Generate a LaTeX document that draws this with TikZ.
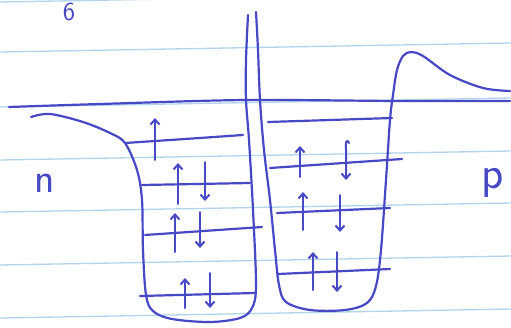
\documentclass[tikz,border=0pt]{standalone}
\usetikzlibrary{arrows.meta}
\definecolor{pen}{RGB}{70,72,198}
\definecolor{rule}{RGB}{178,212,236}
\begin{document}
\begin{tikzpicture}[x=1pt,y=-1pt,
  ink/.style={draw=pen,line width=2.2pt,line cap=round,line join=round},
  ruled/.style={draw=rule,line width=1.3pt},
  spin/.style={ink,line width=2pt,-{Straight Barb[length=5pt,width=9pt,line width=2pt]}},
  lbl/.style={text=pen,inner sep=0pt,font=\sffamily}]
\fill[white] (0,0) rectangle (511,327);
\useasboundingbox (0,0) rectangle (511,327);
% ruled paper lines
\foreach \yl in {2,52,107,160,212,265,318}
  \draw[ruled] (0,\yl) -- (511,\yl-9);
% digit at top
\node[lbl,font=\sffamily\fontsize{26}{26}\selectfont,anchor=north] (six) at (69,3) {6};
% Fermi line
\draw[ink] plot[smooth,tension=0.5] coordinates {(9,107) (100,104) (245,100) (400,101) (510,101)};
% n-side well and left barrier line
\draw[ink] plot[smooth,tension=0.55] coordinates {(31,117) (50,114) (83,122) (110,133) (125,143) (137,170) (142,200) (143,250) (146,295) (153,311) (172,319) (210,322) (240,318) (252,308) (256,285) (253,210) (249,140) (246,100) (246,60) (248,15)};
% right barrier line, p-side well and band tail
\draw[ink] plot[smooth,tension=0.55] coordinates {(256,12) (258,50) (260,100) (264,150) (270,200) (275,250) (279,285) (286,302) (310,310) (345,310) (367,303) (376,286) (381,250) (386,180) (390,120) (393,95) (397,70) (403,56) (411,52) (423,56) (450,75) (483,88) (510,91)};
% n-side levels
\draw[ink] (125,143) -- (185,139) -- (243,135);
\draw[ink] (142,185) -- (250,183);
\draw[ink] (145,235) -- (262,227);
\draw[ink] (140,296) -- (255,293);
% p-side levels
\draw[ink] (268,122) -- (392,118);
\draw[ink] (270,168) -- (402,159);
\draw[ink] (277,213) -- (390,208);
\draw[ink] (278,274) -- (390,269);
% n-side spins
\draw[spin] (155,160) -- (155,118);
\draw[spin] (178,204) -- (178,163);
\draw[spin] (205,162) -- (205,201);
\draw[spin] (175,252) -- (175,213);
\draw[spin] (200,212) -- (200,248);
\draw[spin] (185,308) -- (185,278);
\draw[spin] (210,273) -- (210,308);
% p-side spins
\draw[spin] (300,177) -- (300,146);
\draw[spin] (349,143) .. controls (347,138) and (345,142) .. (346,150) -- (346,180);
\draw[spin] (303,230) -- (303,192);
\draw[spin] (340,195) -- (340,232);
\draw[spin] (313,290) -- (313,252);
\draw[spin] (337,252) -- (337,292);
% labels
\node[lbl,font=\sffamily\fontsize{42}{42}\selectfont,anchor=base] (n) at (45,192) {n};
\node[lbl,font=\sffamily\fontsize{46}{46}\selectfont,anchor=base] (p) at (493,188) {p};
\end{tikzpicture}
\end{document}
